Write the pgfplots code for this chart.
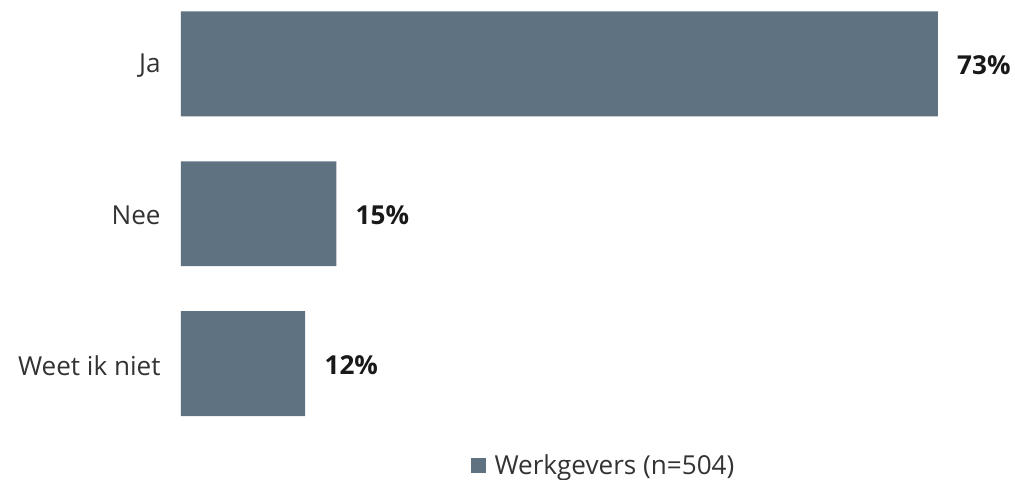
\documentclass[border=0pt]{standalone}
\usepackage{pgfplots}
\pgfplotsset{compat=1.18}
\usepackage{fontspec}
\setmainfont{Open Sans}
\definecolor{barcol}{HTML}{5F7282}
\definecolor{labcol}{HTML}{333333}
\begin{document}
\begin{tikzpicture}
\begin{axis}[
  xbar,
  scale only axis,
  width=568.5pt, height=303.75pt,
  xmin=0, xmax=73,
  ymin=-0.35, ymax=2.35,
  y dir=reverse,
  bar width=78.75pt,
  axis line style={draw=none},
  ytick={0,1,2},
  yticklabels={Ja,Nee,Weet ik niet},
  xtick=\empty,
  major tick length=0pt,
  /pgf/number format/assume math mode=true,
  yticklabel style={inner sep=0pt, xshift=-15pt, yshift=-1.5pt, text=labcol, font=\fontsize{19.6}{22}\selectfont},
  clip=false,
  nodes near coords={\textbf{\pgfmathprintnumber{\pgfplotspointmeta}\%}},
  nodes near coords style={anchor=west, xshift=11pt, yshift=-1pt, text=black!90, font=\fontsize{19.6}{22}\selectfont\bfseries},
  point meta=x,
  legend style={at={(rel axis cs:0.5587,-0.1222)}, anchor=center, draw=none, fill=none,
    font=\fontsize{19.6}{22}\selectfont, text=labcol, inner sep=0pt},
  legend image code/.code={\fill[barcol] (0pt,-5.6pt) rectangle (11.25pt,5.6pt); \path (16pt,0pt);},
]
\addplot[fill=barcol, draw=none] coordinates {(73,0) (15,1) (12,2)};
\addlegendentry{Werkgevers (n=504)}
\path (rel axis cs:-0.2388,-0.1519) rectangle (rel axis cs:1.1003,1.0284);
\end{axis}
\end{tikzpicture}
\end{document}
